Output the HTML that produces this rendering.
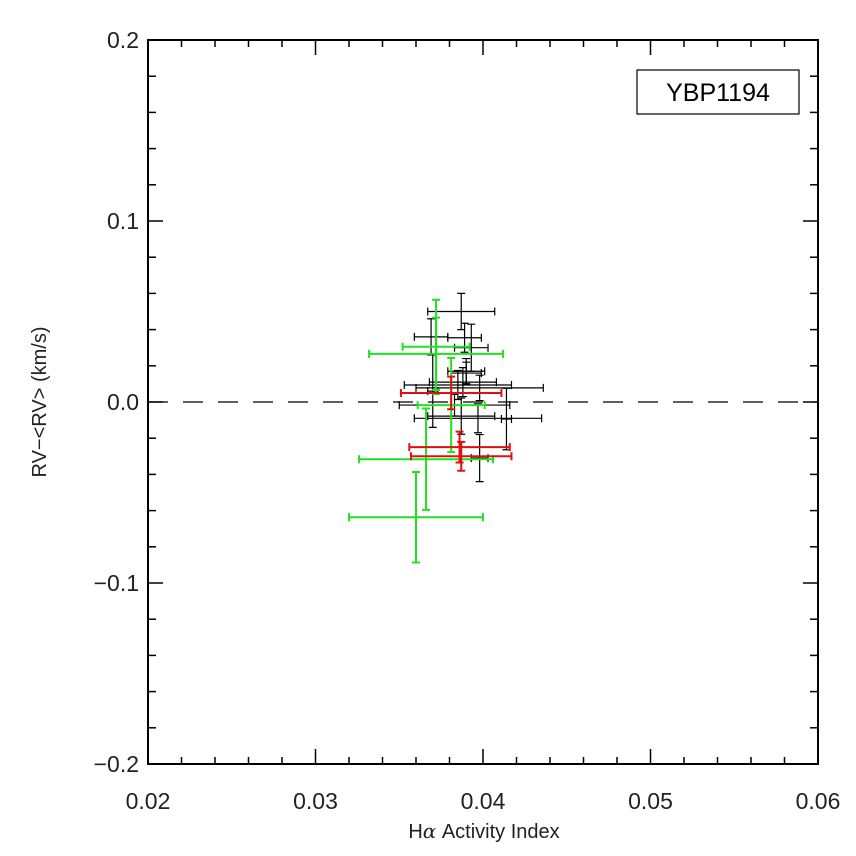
<!DOCTYPE html>
<html><head><meta charset="utf-8"><style>
html,body{margin:0;padding:0;background:#fff;}
svg{display:block;font-family:"Liberation Sans","DejaVu Sans",sans-serif;}
</style></head><body>
<svg id="chart" width="856" height="856" viewBox="0 0 856 856" xmlns="http://www.w3.org/2000/svg">
<rect x="0" y="0" width="856" height="856" fill="#fff"/>
<g id="axes"></g>
<g id="series"></g>
<rect x="637" y="70" width="162" height="44" fill="#fff" stroke="#000" stroke-width="1.2"/>
<text x="718" y="101" font-size="25" text-anchor="middle">YBP1194</text>
<text x="484" y="838" font-size="20" text-anchor="middle" fill="#222">H<tspan font-family="DejaVu Serif, serif" font-style="italic">α</tspan> Activity Index</text>
<text x="0" y="0" font-size="20" text-anchor="middle" fill="#222" transform="translate(46,402) rotate(-90)">RV−&lt;RV&gt; (km/s)</text>
</svg>
<script>
const xTicks=[0.02,0.03,0.04,0.05,0.06];
const yTicks=[-0.2,-0.1,0.0,0.1,0.2];
const xTickLabels=["0.02","0.03","0.04","0.05","0.06"];
const yTickLabels=["−0.2","−0.1","0.0","0.1","0.2"];
// black series
const blackX=[0.0387,0.0369,0.0389,0.0393,0.0390,0.0390,0.0388,0.0385,0.0398,0.0383,0.0387,0.0397,0.0398,0.0414,0.0370];
const blackY=[0.050,0.036,0.0355,0.030,0.017,0.016,0.011,0.0094,0.0078,-0.0017,-0.0078,-0.009,-0.031,-0.0094,0.006];
const blackXErr=[0.002,0.001,0.001,0.001,0.0011,0.0009,0.002,0.0032,0.0038,0.0033,0.002,0.0038,0.0005,0.0003,0.0003];
const blackYErr=[0.010,0.010,0.008,0.013,0.007,0.006,0.008,0.008,0.007,0.006,0.010,0.008,0.013,0.017,0.020];
// red series
const redX=[0.0381,0.0386,0.0387];
const redY=[0.005,-0.0249,-0.030];
const redXErr=[0.003,0.003,0.003];
const redYErr=[0.009,0.0085,0.008];
// green series
const greenX=[0.0360,0.0366,0.0372,0.0372,0.0381];
const greenY=[-0.0637,-0.0316,0.0305,0.0266,-0.0017];
const greenXErr=[0.004,0.004,0.002,0.004,0.002];
const greenYErr=[0.025,0.028,0.026,0.020,0.026];

const NS="http://www.w3.org/2000/svg";
const L=148,R=818,T=40,B=764;
const xMin=0.02,xMax=0.06,yMin=-0.2,yMax=0.2;
function sx(v){return L+(v-xMin)/(xMax-xMin)*(R-L);}
function sy(v){return B-(v-yMin)/(yMax-yMin)*(B-T);}
function mk(tag,attrs,parent){const e=document.createElementNS(NS,tag);for(const k in attrs)e.setAttribute(k,attrs[k]);parent.appendChild(e);return e;}
const axes=document.getElementById('axes');
const frame=mk('rect',{x:L,y:T,width:R-L,height:B-T,fill:'none',stroke:'#000','stroke-width':2},axes);


for(let i=0;i<=20;i++){
  const v=xMin+i*0.002;const x=sx(v);const len=(i%5===0)?15:7;
  const t1=mk('line',{x1:x,y1:B,x2:x,y2:B-len,stroke:'#000','stroke-width':1.5},axes);
  
  
  const t2=mk('line',{x1:x,y1:T,x2:x,y2:T+len,stroke:'#000','stroke-width':1.5},axes);
  
  
}
for(let i=0;i<=20;i++){
  const v=yMin+i*0.02;const y=sy(v);const len=(i%5===0)?15:8;
  const t1=mk('line',{x1:L,y1:y,x2:L+len,y2:y,stroke:'#000','stroke-width':1.5},axes);
  
  
  const t2=mk('line',{x1:R,y1:y,x2:R-len,y2:y,stroke:'#000','stroke-width':1.5},axes);
  
  
}
xTicks.forEach((v,i)=>{
  const t=mk('text',{x:sx(v),y:809,'font-size':23,'text-anchor':'middle',fill:'#222'},axes);
  t.textContent=xTickLabels[i];
  
  
});
yTicks.forEach((v,i)=>{
  const t=mk('text',{x:139,y:sy(v)+8,'font-size':23,'text-anchor':'end',fill:'#222'},axes);
  t.textContent=yTickLabels[i];
  
  
});
const zl=mk('line',{x1:L,y1:sy(0),x2:R,y2:sy(0),stroke:'#000','stroke-width':1.2,'stroke-dasharray':'20,15'},axes);



const series=document.getElementById('series');
function drawSeries(xs,ys,xe,ye,color,name,w,cap){
  const g=mk('g',{},series);
  
  
  xs.forEach((x,i)=>{
    const cx=sx(x),cy=sy(ys[i]);
    const x0=sx(x-xe[i]),x1=sx(x+xe[i]),y0=sy(ys[i]+ye[i]),y1=sy(ys[i]-ye[i]);
    const p=mk('path',{d:`M${x0},${cy}H${x1}M${x0},${cy-cap}V${cy+cap}M${x1},${cy-cap}V${cy+cap}M${cx},${y0}V${y1}M${cx-cap},${y0}H${cx+cap}M${cx-cap},${y1}H${cx+cap}`,stroke:color,'stroke-width':w,fill:'none'},g);
    
    
  });
}
drawSeries(blackX,blackY,blackXErr,blackYErr,'#000','black-series',1.2,4);
drawSeries(greenX,greenY,greenXErr,greenYErr,'#22e022','green-series',2,4);
drawSeries(redX,redY,redXErr,redYErr,'#e01010','red-series',2,4);
</script>
</body></html>
